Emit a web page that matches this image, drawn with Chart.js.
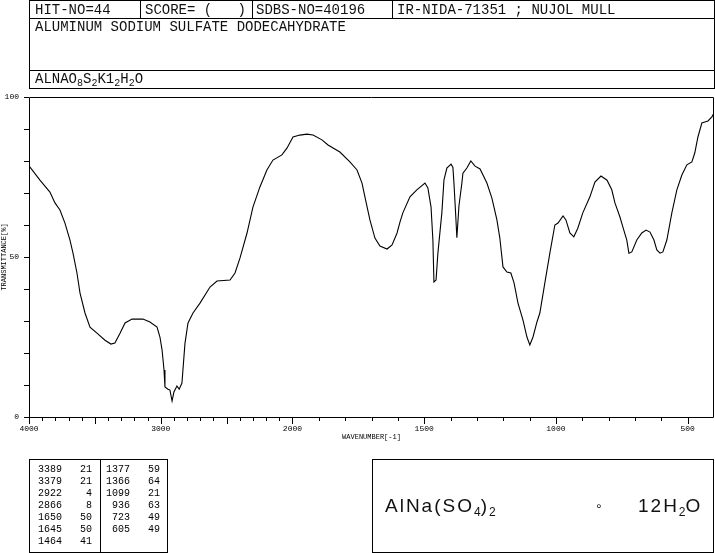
<!DOCTYPE html>
<html>
<head>
<meta charset="utf-8">
<script src="https://cdn.jsdelivr.net/npm/chart.js@4.4.0/dist/chart.umd.min.js"></script>
<style>
  html, body { margin: 0; padding: 0; background: #fff; }
  #page { position: relative; width: 715px; height: 553px; overflow: hidden; font-family: "Liberation Mono", "DejaVu Sans Mono", monospace; color: #000; }
  #irChart { position: absolute; left: 0; top: 0; }
  .box { position: absolute; border: 1px solid #000; box-sizing: border-box; }
  .hline { position: absolute; height: 1px; background: #000; }
  .vline { position: absolute; width: 1px; background: #000; }
  .txt { position: absolute; white-space: pre; font-size: 14px; line-height: 14px; color: #111; }
  .txt sub { font-size: 10px; vertical-align: -3px; line-height: 0; }
  .peaks { position: absolute; font-size: 10px; line-height: 12px; white-space: pre; }
  .formula { position: absolute; font-family: "Liberation Sans", "DejaVu Sans", sans-serif; font-size: 19px; letter-spacing: 2px; white-space: pre; color: #111; }
  .formula sub { font-size: 12px; vertical-align: -4px; line-height: 0; letter-spacing: 0; }
</style>
</head>
<body>
<div id="page">
  <canvas id="irChart" width="715" height="553"></canvas>

  <div class="box" style="left:29px; top:0; width:686px; height:89px;"></div>
  <div class="hline" style="left:29px; top:18px; width:686px;"></div>
  <div class="hline" style="left:29px; top:70px; width:686px;"></div>
  <div class="vline" style="left:140px; top:0; height:19px;"></div>
  <div class="vline" style="left:252px; top:0; height:19px;"></div>
  <div class="vline" style="left:392px; top:0; height:19px;"></div>
  <div class="txt" style="left:35px; top:3px;">HIT-NO=44</div>
  <div class="txt" style="left:145px; top:3px;">SCORE= (   )</div>
  <div class="txt" style="left:256px; top:3px;">SDBS-NO=40196</div>
  <div class="txt" style="left:397px; top:3px;">IR-NIDA-71351 ; NUJOL MULL</div>
  <div class="txt" style="left:35px; top:20px;">ALUMINUM SODIUM SULFATE DODECAHYDRATE</div>
  <div class="txt" style="left:35px; top:72px;">ALNAO<sub>8</sub>S<sub>2</sub>K1<sub>2</sub>H<sub>2</sub>O</div>

  <div class="box" style="left:29px; top:459px; width:139px; height:94px;"></div>
  <div class="vline" style="left:100px; top:459px; height:94px;"></div>
  <div class="peaks" id="peaksLeft" style="left:38px; top:464px;"></div>
  <div class="peaks" id="peaksRight" style="left:106px; top:464px;"></div>

  <div class="box" style="left:372px; top:459px; width:342px; height:94px;"></div>
  <div class="formula" style="left:385px; top:495px;">AlNa(SO<sub>4</sub>)<sub>2</sub></div>
  <div class="formula" style="left:595px; top:499px; font-size:12px;">&#8728;</div>
  <div class="formula" style="left:638px; top:495px;">12H<sub>2</sub>O</div>
</div>

<script>
(() => {
  const WAVE_MAX = 4000;
  const WAVE_BREAK = 2000;
  const WAVE_MIN = 400;

  // spectrum (wavenumber cm-1, transmittance %)
  const wavenumbers = [
    4000, 3917, 3841, 3803, 3765, 3727, 3689, 3666, 3636, 3613,
    3575, 3537, 3484, 3423, 3378, 3348, 3309, 3271, 3218, 3135,
    3082, 3028, 3006, 2990, 2975, 2968, 2945, 2930, 2914, 2900,
    2877, 2860, 2839, 2816, 2793, 2755, 2702, 2626, 2573, 2474,
    2436, 2398, 2345, 2300, 2247, 2194, 2148, 2080, 2042, 1998,
    1972, 1945, 1922, 1888, 1865, 1820, 1782, 1755, 1736, 1725,
    1706, 1687, 1668, 1641, 1622, 1603, 1592, 1581, 1554, 1528,
    1497, 1486, 1474, 1467, 1463, 1455, 1448, 1433, 1425, 1414,
    1398, 1391, 1387, 1380, 1376, 1368, 1357, 1353, 1338, 1323,
    1307, 1288, 1262, 1243, 1224, 1213, 1201, 1186, 1171, 1159,
    1144, 1125, 1110, 1099, 1087, 1072, 1061, 1042, 1023, 1004,
    992, 973, 962, 947, 932, 917, 898, 871, 852, 829,
    806, 788, 776, 757, 746, 731, 723, 712, 693, 674,
    658, 643, 628, 617, 605, 594, 579, 560, 541, 522,
    503, 484, 473, 461, 446, 435, 423, 408, 400
  ];
  const transmittance = [
    78.5, 74.0, 70.3, 66.9, 64.7, 60.6, 55.3, 51.2, 45.0, 38.8,
    32.5, 28.1, 26.2, 24.0, 22.8, 23.1, 26.2, 29.4, 30.6, 30.6,
    29.7, 28.1, 25.0, 21.0, 14.7, 9.4, 8.7, 8.4, 5.0, 7.8,
    9.7, 8.7, 10.6, 23.0, 29.4, 32.5, 35.6, 40.6, 42.5, 42.8,
    45.0, 49.7, 57.5, 65.6, 71.9, 77.2, 80.3, 81.9, 84.0, 87.5,
    88.1, 88.4, 88.1, 86.6, 85.0, 82.8, 79.7, 77.2, 73.1, 68.8,
    61.6, 55.9, 53.4, 52.5, 53.8, 57.5, 60.9, 63.8, 68.8, 71.0,
    73.1, 71.6, 65.6, 55.3, 42.2, 42.8, 51.2, 63.8, 74.0, 77.8,
    79.0, 78.0, 73.0, 62.5, 56.0, 66.0, 73.1, 76.2, 77.8, 80.0,
    78.4, 77.5, 73.1, 68.4, 61.6, 56.0, 46.9, 45.3, 45.0, 41.9,
    35.6, 30.3, 25.0, 22.5, 25.0, 29.7, 32.5, 41.9, 51.2, 60.0,
    60.6, 62.8, 61.6, 57.5, 56.3, 59.0, 63.8, 68.8, 73.4, 75.3,
    74.0, 71.0, 66.9, 62.5, 59.4, 55.3, 51.2, 51.6, 55.3, 57.5,
    58.4, 57.8, 55.3, 52.2, 51.2, 51.6, 55.3, 63.8, 71.0, 75.6,
    78.8, 79.7, 82.5, 87.5, 91.9, 92.2, 92.5, 93.8, 95.0
  ];

  const xLabelValues = [4000, 3000, 2000, 1500, 1000, 500];
  const yLabelValues = [0, 50, 100];

  const peakWaves = [3389, 3379, 2922, 2866, 1650, 1645, 1464, 1377, 1366, 1099, 936, 723, 605];
  const peakValues = [21, 21, 4, 8, 50, 50, 41, 59, 64, 21, 63, 49, 49];

  function waveToUnit(value) {
    if (value >= WAVE_BREAK) {
      return (WAVE_MAX - value) / 2;
    }
    return (WAVE_MAX - WAVE_BREAK) / 2 + (WAVE_BREAK - value);
  }

  class WaveScale extends Chart.LinearScale {
    getPixelForValue(value) {
      const total = waveToUnit(WAVE_MIN);
      return this.getPixelForDecimal(waveToUnit(value) / total);
    }

    getValueForPixel(pixel) {
      const total = waveToUnit(WAVE_MIN);
      const unit = this.getDecimalForPixel(pixel) * total;
      const half = (WAVE_MAX - WAVE_BREAK) / 2;
      return unit <= half ? WAVE_MAX - unit * 2 : WAVE_BREAK - (unit - half);
    }
  }
  WaveScale.id = "wave";
  WaveScale.defaults = Chart.LinearScale.defaults;
  Chart.register(WaveScale);

  function fillPeakTable() {
    const pad = (text, width) => String(text).padStart(width, " ");
    const rows = peakWaves.map((wave, i) => pad(wave, 4) + pad(peakValues[i], 5));
    document.getElementById("peaksLeft").textContent = rows.slice(0, 7).join("\n");
    document.getElementById("peaksRight").textContent = rows.slice(7).join("\n");
  }

  const frameAndTicks = {
    id: "frameAndTicks",
    afterDraw(chart) {
      const { ctx, chartArea, scales } = chart;
      ctx.save();
      ctx.strokeStyle = "#000";
      ctx.lineWidth = 1;
      ctx.beginPath();
      ctx.rect(Math.round(chartArea.left) + 0.5, Math.round(chartArea.top) + 0.5,
        Math.round(chartArea.width) - 1, Math.round(chartArea.height));
      scales.x.ticks.forEach((tick) => {
        const px = Math.round(scales.x.getPixelForValue(tick.value)) + 0.5;
        const len = tick.value % 500 === 0 ? 7 : 4;
        ctx.moveTo(px, chartArea.bottom);
        ctx.lineTo(px, chartArea.bottom + len);
      });
      scales.y.ticks.forEach((tick) => {
        const py = Math.round(scales.y.getPixelForValue(tick.value)) + 0.5;
        ctx.moveTo(chartArea.left - 5, py);
        ctx.lineTo(chartArea.left, py);
      });
      ctx.stroke();
      ctx.restore();
    }
  };

  const tickFont = { family: "Liberation Mono", size: 8 };

  fillPeakTable();

  new Chart(document.getElementById("irChart").getContext("2d"), {
    type: "line",
    data: {
      datasets: [{
        data: wavenumbers.map((w, i) => ({ x: w, y: transmittance[i] })),
        borderColor: "#000",
        borderWidth: 1.1,
        pointRadius: 0,
        tension: 0,
        fill: false
      }]
    },
    options: {
      responsive: false,
      animation: false,
      events: [],
      layout: { padding: { top: 97, right: 1, bottom: 106, left: 0 } },
      plugins: { legend: { display: false }, tooltip: { enabled: false } },
      scales: {
        x: {
          type: "wave",
          min: WAVE_MIN,
          max: WAVE_MAX,
          afterFit: (scale) => { scale.height = 30; },
          afterBuildTicks: (scale) => {
            const ticks = [];
            for (let w = WAVE_MAX; w >= 500; w -= 100) {
              ticks.push({ value: w });
            }
            scale.ticks = ticks;
          },
          grid: { display: false, drawTicks: false },
          border: { display: false },
          ticks: {
            autoSkip: false,
            maxRotation: 0,
            padding: 7,
            color: "#000",
            font: tickFont,
            callback: (value) => (xLabelValues.includes(value) ? String(value) : "")
          },
          title: {
            display: true,
            text: "WAVENUMBER[-1]",
            color: "#000",
            font: { family: "Liberation Mono", size: 7 },
            padding: { top: 0, bottom: 6 }
          }
        },
        y: {
          min: 0,
          max: 100,
          afterFit: (scale) => { scale.width = 29; },
          grid: { display: false, drawTicks: false },
          border: { display: false },
          ticks: {
            stepSize: 10,
            autoSkip: false,
            padding: 10,
            color: "#000",
            font: tickFont,
            callback: (value) => (yLabelValues.includes(value) ? String(value) : "")
          },
          title: {
            display: true,
            text: "TRANSMITTANCE[%]",
            color: "#000",
            font: { family: "Liberation Mono", size: 7 },
            padding: { top: 0, bottom: 0 }
          }
        }
      }
    },
    plugins: [frameAndTicks]
  });
})();
</script>
</body>
</html>
